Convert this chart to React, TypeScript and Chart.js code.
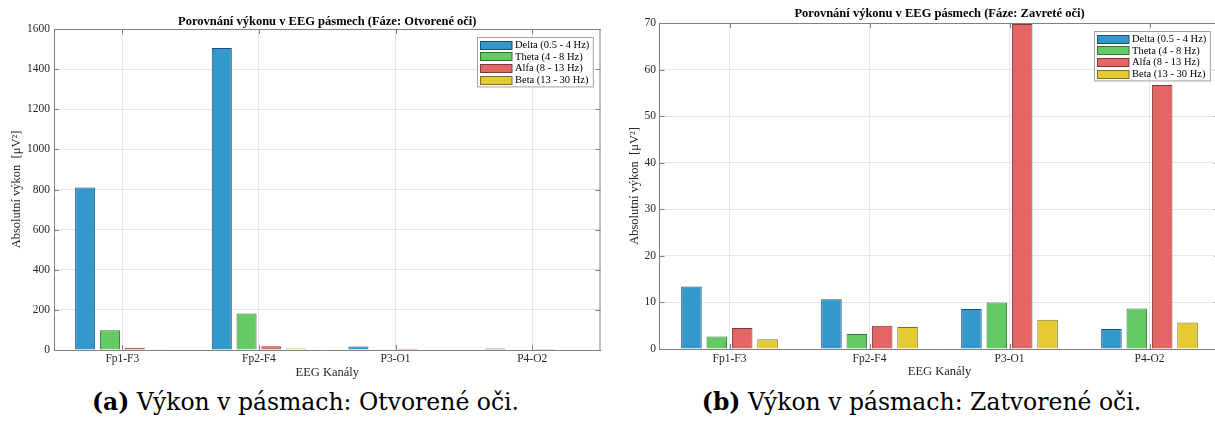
import React, { useEffect, useRef } from 'react';
import { Chart, registerables } from 'chart.js';

Chart.register(...registerables);

// ---------------- data ----------------
const CHANNELS = ['Fp1-F3', 'Fp2-F4', 'P3-O1', 'P4-O2'];
const BAND_LABELS = ['Delta (0.5 - 4 Hz)', 'Theta (4 - 8 Hz)', 'Alfa (8 - 13 Hz)', 'Beta (13 - 30 Hz)'];
const BAND_FILLS = ['#3398cc', '#64cb64', '#e56565', '#e5cb33'];
const BAND_EDGES = ['#1f4f6e', '#3c6e3c', '#7e3a3a', '#7c6e2a'];

const OPEN_DELTA = [810, 1505, 18, 8];
const OPEN_THETA = [98, 182, 4, 3];
const OPEN_ALPHA = [11, 19, 6, 5];
const OPEN_BETA = [4, 7, 3, 2];

const CLOSED_DELTA = [13.4, 10.7, 8.6, 4.3];
const CLOSED_THETA = [2.7, 3.2, 10.0, 8.7];
const CLOSED_ALPHA = [4.5, 5.0, 69.8, 56.7];
const CLOSED_BETA = [2.1, 4.7, 6.3, 5.7];

const OPEN_Y_TICKS = [0, 200, 400, 600, 800, 1000, 1200, 1400, 1600];
const CLOSED_Y_TICKS = [0, 10, 20, 30, 40, 50, 60, 70];

const TITLE_OPEN = 'Porovnání výkonu v EEG pásmech (Fáze: Otvorené oči)';
const TITLE_CLOSED = 'Porovnání výkonu v EEG pásmech (Fáze: Zavreté oči)';
const Y_LABEL = 'Absolutní výkon  [μV²]';
const X_LABEL = 'EEG Kanály';
const CAPTION_OPEN = ['(a)', ' Výkon v pásmach: Otvorené oči.'];
const CAPTION_CLOSED = ['(b)', ' Výkon v pásmach: Zatvorené oči.'];

// ---------------- style ----------------
const SERIF = '"Liberation Serif", "Times New Roman", serif';
const AXIS_COLOR = '#808080';
const GRID_COLOR = '#e6e6e6';
const TEXT_COLOR = '#262626';

const framePlugin = {
  id: 'frame',
  beforeDatasetsDraw(chart: any, _args: any, opts: any) {
    const { ctx, chartArea, scales } = chart;
    const { left, right, top, bottom } = chartArea;
    const L = opts.tickLen || 5;
    ctx.save();
    ctx.strokeStyle = opts.color || AXIS_COLOR;
    ctx.lineWidth = 1;
    ctx.beginPath();
    ctx.moveTo(left, top + 0.5);
    ctx.lineTo(right, top + 0.5);
    ctx.moveTo(right - 0.5, top);
    ctx.lineTo(right - 0.5, bottom);
    const xs = scales.x;
    xs.ticks.forEach((_t: any, i: number) => {
      const px = Math.round(xs.getPixelForTick(i)) + 0.5;
      ctx.moveTo(px, bottom);
      ctx.lineTo(px, bottom - L);
      ctx.moveTo(px, top);
      ctx.lineTo(px, top + L);
    });
    const ys = scales.y;
    ys.ticks.forEach((_t: any, i: number) => {
      const py = Math.round(ys.getPixelForTick(i)) + 0.5;
      ctx.moveTo(left, py);
      ctx.lineTo(left + L, py);
      ctx.moveTo(right, py);
      ctx.lineTo(right - L, py);
    });
    ctx.stroke();
    ctx.restore();
  },
};

const boxLegendPlugin = {
  id: 'boxLegend',
  afterDraw(chart: any, _args: any, opts: any) {
    const { ctx, chartArea } = chart;
    const items = chart.data.datasets.map((ds: any) => ({
      text: ds.label,
      fill: ds.backgroundColor,
      stroke: ds.borderColor,
    }));
    ctx.save();
    ctx.font = `${opts.fontSize}px ${SERIF}`;
    const textW = Math.max(...items.map((it: any) => ctx.measureText(it.text).width));
    const w = opts.padL + opts.swatchW + opts.gap + textW + opts.padR;
    const h = opts.padT + items.length * opts.rowH + opts.padB;
    const x = Math.round(chartArea.right - opts.offsetRight - w) + 0.5;
    const y = Math.round(chartArea.top + opts.offsetTop) + 0.5;
    ctx.fillStyle = '#ffffff';
    ctx.fillRect(x, y, w, h);
    ctx.strokeStyle = '#a0a0a0';
    ctx.lineWidth = 1;
    ctx.strokeRect(x, y, w, h);
    items.forEach((it: any, i: number) => {
      const cy = y + opts.padT + opts.rowH * (i + 0.5);
      const sx = x + opts.padL;
      const sy = Math.round(cy - opts.swatchH / 2) + 0.5;
      ctx.fillStyle = it.fill;
      ctx.fillRect(sx, sy, opts.swatchW, opts.swatchH);
      ctx.strokeStyle = it.stroke;
      ctx.strokeRect(sx, sy, opts.swatchW, opts.swatchH);
      ctx.fillStyle = '#000000';
      ctx.textBaseline = 'middle';
      ctx.textAlign = 'left';
      ctx.fillText(it.text, sx + opts.swatchW + opts.gap, cy + 0.5);
    });
    ctx.restore();
  },
};

type ChartCfg = {
  title: string;
  series: number[][];
  yTicks: number[];
  x: number;
  w: number;
  h: number;
  areaLeft: number;
  areaRight: number;
  titlePadTop: number;
  titlePadBottom: number;
  xAxisH: number;
  padBottom: number;
  yTitlePad: number;
  yTickPad: number;
  xTickPad: number;
  legendRight: number;
  legendTop: number;
};

function BarChart({ cfg }: { cfg: ChartCfg }) {
  const ref = useRef<HTMLCanvasElement | null>(null);
  useEffect(() => {
    if (!ref.current) return;
    const yMin = Math.min(...cfg.yTicks);
    const yMax = Math.max(...cfg.yTicks);
    const chart = new Chart(ref.current, {
      type: 'bar',
      data: {
        labels: CHANNELS,
        datasets: cfg.series.map((vals, i) => ({
          label: BAND_LABELS[i],
          data: vals,
          backgroundColor: BAND_FILLS[i],
          borderColor: BAND_EDGES[i],
          borderWidth: 1,
          categoryPercentage: 0.725,
          barPercentage: 0.81,
        })),
      },
      options: {
        responsive: false,
        animation: false,
        devicePixelRatio: 1,
        layout: {
          padding: { left: 0, top: 0, right: cfg.w - cfg.areaRight, bottom: cfg.padBottom },
        },
        plugins: {
          legend: { display: false },
          tooltip: { enabled: false },
          title: {
            display: true,
            text: cfg.title,
            fullSize: false,
            color: '#000000',
            font: { family: SERIF, size: 12.5, weight: 'bold', lineHeight: 1.2 },
            padding: { top: cfg.titlePadTop, bottom: cfg.titlePadBottom },
          },
          frame: { color: AXIS_COLOR, tickLen: 5 },
          boxLegend: {
            fontSize: 10.5,
            padL: 3,
            padR: 4,
            padT: 1.5,
            padB: 1.5,
            swatchW: 31.5,
            swatchH: 8,
            gap: 3,
            rowH: 11.6,
            offsetRight: cfg.legendRight,
            offsetTop: cfg.legendTop,
          },
        } as any,
        scales: {
          x: {
            offset: true,
            grid: { display: true, offset: false, color: GRID_COLOR, drawTicks: false },
            border: { display: true, color: AXIS_COLOR, width: 1 },
            ticks: { color: TEXT_COLOR, font: { family: SERIF, size: 11.5, lineHeight: 1.2 }, padding: cfg.xTickPad, maxRotation: 0 },
            title: {
              display: true,
              text: X_LABEL,
              color: TEXT_COLOR,
              font: { family: SERIF, size: 12.5, lineHeight: 1.2 },
              padding: { top: 0, bottom: 0 },
            },
            afterFit: (s: any) => {
              s.height = cfg.xAxisH;
            },
          },
          y: {
            min: yMin,
            max: yMax,
            grid: { color: GRID_COLOR, drawTicks: false },
            border: { display: true, color: AXIS_COLOR, width: 1 },
            ticks: {
              color: TEXT_COLOR,
              font: { family: SERIF, size: 11.5 },
              padding: cfg.yTickPad,
              callback: (v: any) => String(v),
            },
            afterBuildTicks: (s: any) => {
              s.ticks = cfg.yTicks.map((v) => ({ value: v }));
            },
            title: {
              display: true,
              text: Y_LABEL,
              color: TEXT_COLOR,
              font: { family: SERIF, size: 12.5, lineHeight: 1.2 },
              padding: { top: cfg.yTitlePad, bottom: 0 },
            },
            afterFit: (s: any) => {
              s.width = cfg.areaLeft;
            },
          },
        },
      },
      plugins: [framePlugin, boxLegendPlugin],
    } as any);
    return () => chart.destroy();
  }, [cfg]);
  return (
    <canvas
      ref={ref}
      width={cfg.w}
      height={cfg.h}
      style={{ position: 'absolute', left: cfg.x, top: 0, width: cfg.w, height: cfg.h }}
    />
  );
}

const OPEN_CFG: ChartCfg = {
  title: TITLE_OPEN,
  series: [OPEN_DELTA, OPEN_THETA, OPEN_ALPHA, OPEN_BETA],
  yTicks: OPEN_Y_TICKS,
  x: 0,
  w: 607,
  h: 385,
  areaLeft: 54,
  areaRight: 600.5,
  titlePadTop: 14,
  titlePadBottom: 0,
  xAxisH: 30,
  padBottom: 5,
  yTitlePad: 9.5,
  yTickPad: 4,
  xTickPad: 2.4,
  legendRight: 8,
  legendTop: 7.5,
};

const CLOSED_CFG: ChartCfg = {
  title: TITLE_CLOSED,
  series: [CLOSED_DELTA, CLOSED_THETA, CLOSED_ALPHA, CLOSED_BETA],
  yTicks: CLOSED_Y_TICKS,
  x: 607,
  w: 625,
  h: 385,
  areaLeft: 52.5,
  areaRight: 612.5,
  titlePadTop: 6.5,
  titlePadBottom: 1.5,
  xAxisH: 30,
  padBottom: 6,
  yTitlePad: 20.5,
  yTickPad: 3.5,
  xTickPad: 3.4,
  legendRight: 9.7,
  legendTop: 8,
};

function Caption({ parts, center }: { parts: string[]; center: number }) {
  return (
    <div
      style={{
        position: 'absolute',
        left: center - 300,
        width: 600,
        top: 388,
        textAlign: 'center',
        fontFamily: '"DejaVu Serif", serif',
        fontSize: 23.5,
        lineHeight: '28px',
        color: '#000',
        whiteSpace: 'nowrap',
      }}
    >
      <span style={{ fontWeight: 'bold' }}>{parts[0]}</span>
      <span>{parts[1]}</span>
    </div>
  );
}

export default function App() {
  return (
    <div
      style={{
        position: 'fixed',
        left: 0,
        top: 0,
        width: 1215,
        height: 423,
        overflow: 'hidden',
        background: '#ffffff',
      }}
    >
      <BarChart cfg={OPEN_CFG} />
      <BarChart cfg={CLOSED_CFG} />
      <Caption parts={CAPTION_OPEN} center={305.5} />
      <Caption parts={CAPTION_CLOSED} center={921.5} />
    </div>
  );
}
